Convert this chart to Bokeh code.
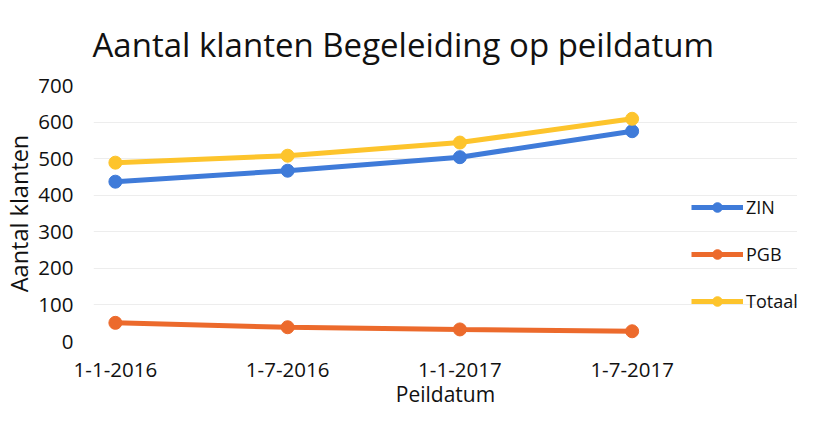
from bokeh.plotting import figure
from bokeh.models import FixedTicker, Range1d, Legend, LegendItem
from bokeh.embed import file_html
from bokeh.resources import INLINE

dates = ["1-1-2016", "1-7-2016", "1-1-2017", "1-7-2017"]
zin = [437, 467, 504, 575]
pgb = [51, 39, 33, 28]
totaal = [489, 508, 544, 609]
series_names = ["ZIN", "PGB", "Totaal"]
colors = ["#3f7bd9", "#ec6a2c", "#fdc42c"]

FONT = "Open Sans"
x = list(range(len(dates)))

p = figure(width=797, height=414, output_backend="svg", toolbar_location=None,
           x_range=Range1d(-0.127, 3.96), y_range=Range1d(0, 700),
           min_border_left=90, min_border_right=0, min_border_top=79, min_border_bottom=73)

p.title.text = "Aantal klanten Begeleiding op peildatum"
p.title.text_font = FONT
p.title.text_font_size = "33px"
p.title.text_font_style = "normal"
p.title.align = "left"
p.title.offset = -1
p.title.text_color = "#111111"
p.title.standoff = 38

p.outline_line_color = None
p.background_fill_color = "white"
p.border_fill_color = "white"

p.xgrid.grid_line_color = None
p.ygrid.grid_line_color = "#ededed"
p.ygrid.grid_line_width = 1
p.ygrid.bounds = (-0.127, 3.127)

p.yaxis.ticker = FixedTicker(ticks=[0, 100, 200, 300, 400, 500, 600, 700])
p.xaxis.ticker = FixedTicker(ticks=x)
p.xaxis.major_label_overrides = {i: d for i, d in enumerate(dates)}

for ax in (p.xaxis[0], p.yaxis[0]):
    ax.axis_line_color = None
    ax.major_tick_line_color = None
    ax.minor_tick_line_color = None
    ax.major_label_text_font = FONT
    ax.major_label_text_font_size = "20.5px"
    ax.major_label_text_color = "#111111"
    ax.axis_label_text_font = FONT
    ax.axis_label_text_font_size = "23.5px"
    ax.axis_label_text_font_style = "normal"
    ax.axis_label_text_color = "#111111"

p.xaxis.axis_label = "Peildatum"
p.xaxis.axis_label_text_font_size = "21px"
p.xaxis.major_label_standoff = 15
p.xaxis.axis_label_standoff = 0
p.yaxis.axis_label = "Aantal klanten"
p.yaxis.major_label_standoff = 14
p.yaxis.axis_label_standoff = 0

items = []
for name, vals, c in zip(series_names, [zin, pgb, totaal], colors):
    l = p.line(x, vals, line_color=c, line_width=5)
    s = p.scatter(x, vals, size=13, fill_color=c, line_color=c)
    items.append(LegendItem(label=name, renderers=[l, s]))

legend = Legend(items=items, location=(598, 28))
legend.label_text_font = FONT
legend.label_text_font_size = "18px"
legend.label_text_color = "#111111"
legend.glyph_width = 52
legend.glyph_height = 24
legend.spacing = 23
legend.border_line_color = None
legend.background_fill_alpha = 0
legend.margin = 0
legend.padding = 0
legend.label_standoff = 3
p.add_layout(legend, "center")

open("out.html", "w").write(file_html(p, INLINE))
